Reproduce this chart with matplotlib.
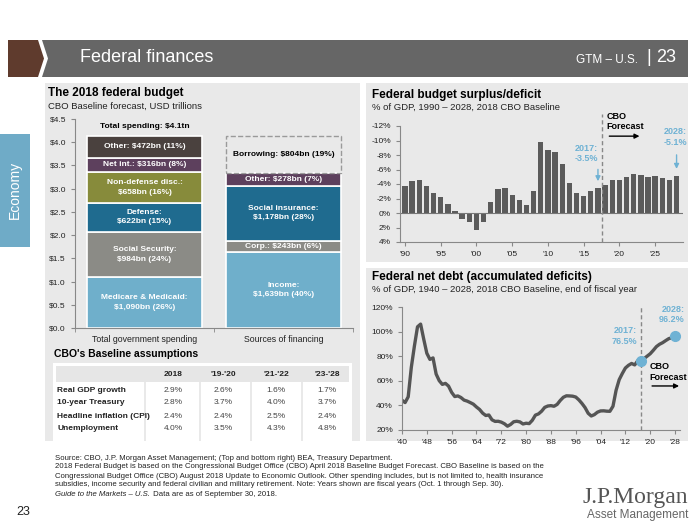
import matplotlib
matplotlib.use("Agg")
import matplotlib.pyplot as plt
from matplotlib.patches import Rectangle, Polygon

plt.rcParams['font.family'] = ['Liberation Sans', 'DejaVu Sans']

# ---- data -------------------------------------------------------------
bar_categories = ["Total government spending", "Sources of financing"]

spend_labels = ["Medicare & Medicaid:\n$1,090bn (26%)", "Social Security:\n$984bn (24%)",
                "Defense:\n$622bn (15%)", "Non-defense disc.:\n$658bn (16%)",
                "Net int.: $316bn (8%)", "Other: $472bn (11%)"]
spend_values = [1.090, 0.984, 0.622, 0.658, 0.316, 0.472]

fin_labels = ["Income:\n$1,639bn (40%)", "Corp.: $243bn (6%)",
              "Social insurance:\n$1,178bn (28%)", "Other: $278bn (7%)",
              "Borrowing: $804bn (19%)"]
fin_values = [1.639, 0.243, 1.178, 0.278, 0.804]

table_cols = ["2018", "'19-'20", "'21-'22", "'23-'28"]
table_rows = ["Real GDP growth", "10-year Treasury", "Headline inflation (CPI)", "Unemployment"]
table_vals = [["2.9%", "2.6%", "1.6%", "1.7%"],
              ["2.8%", "3.7%", "4.0%", "3.7%"],
              ["2.4%", "2.4%", "2.5%", "2.4%"],
              ["4.0%", "3.5%", "4.3%", "4.8%"]]

deficit_years = list(range(1990, 2029))
deficit_pct = [-3.7, -4.4, -4.5, -3.7, -2.8, -2.2, -1.3, -0.3, 0.8, 1.3,
               2.3, 1.2, -1.5, -3.3, -3.4, -2.5, -1.8, -1.1, -3.1, -9.8,
               -8.7, -8.4, -6.7, -4.1, -2.8, -2.4, -3.1, -3.5, -3.9, -4.6,
               -4.6, -4.9, -5.4, -5.2, -4.9, -5.1, -4.8, -4.6, -5.1]

debt_years = list(range(1940, 2029))
debt_pct = [44.2, 42.3, 47.0, 70.9, 88.3, 103.9, 106.1, 93.9, 82.4, 77.4,
            78.6, 65.5, 60.1, 57.1, 57.9, 55.7, 50.6, 47.2, 47.7, 46.4,
            44.3, 43.5, 42.3, 41.0, 38.7, 36.7, 33.7, 31.8, 32.2, 28.3,
            27.0, 27.1, 26.4, 25.1, 23.1, 24.5, 26.7, 27.1, 26.6, 24.9,
            25.5, 25.2, 27.9, 32.1, 33.1, 35.3, 38.4, 39.5, 39.8, 39.3,
            40.8, 44.0, 46.6, 47.8, 47.7, 47.5, 46.8, 44.5, 41.6, 38.2,
            33.6, 31.4, 32.5, 34.5, 35.5, 35.6, 35.3, 35.2, 39.3, 52.3,
            60.9, 65.9, 70.4, 72.6, 74.1, 72.9, 76.4, 76.5, 78.0, 80.0,
            82.0, 84.8, 87.8, 89.7, 91.0, 92.7, 94.3, 95.0, 96.2]

# ---- helpers (pixel coords -> figure fraction) -------------------------
W, H = 700, 525
def fx(x): return x / W
def fy(y): return 1 - y / H
def box(x0, y0, x1, y1): return [fx(x0), fy(y1), (x1 - x0) / W, (y1 - y0) / H]

def rect(x0, y0, x1, y1, color, z=-10):
    fig.patches.append(Rectangle((fx(x0), fy(y1)), (x1 - x0) / W, (y1 - y0) / H,
                                 transform=fig.transFigure, facecolor=color,
                                 edgecolor='none', zorder=z))

def ftext(x, y, s, **kw):
    kw.setdefault('va', 'center')
    return fig.text(fx(x), fy(y), s, **kw)

BLUE = '#6fb2d4'
PANEL = '#e9e9e9'
TXT = '#222222'
seg_colors_spend = ['#6fafcb', '#8b8b86', '#1f6b8f', '#878b3b', '#5d405d', '#4a413e']
seg_colors_fin = ['#6fafcb', '#8b8b86', '#1f6b8f', '#5d405d']
narrow = ['Liberation Sans Narrow', 'Liberation Sans']

fig = plt.figure(figsize=(7, 5.25), dpi=100)

# ---- header ---------------------------------------------------------------
fig.patches.append(Polygon([(fx(8), fy(40)), (fx(38), fy(40)), (fx(44), fy(58.5)),
                            (fx(38), fy(77)), (fx(8), fy(77))], closed=True,
                           transform=fig.transFigure, facecolor='#5f3b2d', edgecolor='none',
                           zorder=-10))
fig.patches.append(Polygon([(fx(42), fy(40)), (fx(688), fy(40)), (fx(688), fy(77)),
                            (fx(42), fy(77)), (fx(48), fy(58.5))], closed=True,
                           transform=fig.transFigure, facecolor='#666666', edgecolor='none',
                           zorder=-10))
ftext(80, 58, "Federal finances", color='white', fontsize=13, family=narrow)
ftext(638, 60, "GTM – U.S.", color='white', fontsize=8.5, ha='right', family=narrow)
ftext(649, 58, "|", color='white', fontsize=13, ha='center')
ftext(676, 58, "23", color='white', fontsize=13, ha='right', family=narrow)

# side tab
rect(0, 134, 30, 247, '#6fabc7')
ftext(15, 190, "Economy", color='white', fontsize=10, rotation=90, ha='center')

# panels
rect(45, 83, 360, 441, PANEL)
rect(366, 83, 688, 262, PANEL)
rect(366, 268, 688, 441, PANEL)

# ---- left: 2018 federal budget -----------------------------------------
ftext(48, 93, "The 2018 federal budget", fontsize=8.5, fontweight='bold', color='black')
ftext(48, 106, "CBO Baseline forecast, USD trillions", fontsize=6.8, color=TXT)

ax1 = fig.add_axes(box(75, 119, 353, 328))
ax1.patch.set_alpha(0)
bw = 0.83
bottom = 0
for v, lab, c in zip(spend_values, spend_labels, seg_colors_spend):
    ax1.bar(0, v, bottom=bottom, width=bw, color=c, edgecolor='white', linewidth=1.2)
    ax1.text(0, bottom + v / 2, lab, ha='center', va='center', color='white',
             fontsize=6, fontweight='bold', linespacing=1.5)
    bottom += v
ax1.text(0, bottom + 0.19, "Total spending: $4.1tn", ha='center', va='center',
         fontsize=6, fontweight='bold', color='black')
bottom = 0
for i, (v, lab) in enumerate(zip(fin_values, fin_labels)):
    if i < len(seg_colors_fin):
        ax1.bar(1, v, bottom=bottom, width=bw, color=seg_colors_fin[i],
                edgecolor='white', linewidth=1.2)
        ax1.text(1, bottom + v / 2, lab, ha='center', va='center', color='white',
                 fontsize=6, fontweight='bold', linespacing=1.5)
    else:
        ax1.bar(1, v, bottom=bottom, width=bw, facecolor='none',
                edgecolor='#9a9a9a', linewidth=1, linestyle='--')
        ax1.text(1, bottom + v / 2, lab, ha='center', va='center', color='black',
                 fontsize=6, fontweight='bold')
    bottom += v

ax1.set_xlim(-0.5, 1.5)
ax1.set_ylim(0, 4.5)
ax1.set_yticks([i * 0.5 for i in range(10)])
ax1.set_yticklabels([f"${i * 0.5:.1f}" for i in range(10)])
ax1.set_xticks([0, 1])
ax1.set_xticklabels(bar_categories)
ax1.set_xticks([-0.5, 0.5, 1.5], minor=True)
ax1.tick_params(axis='x', which='major', length=0, pad=5, labelsize=6.3, labelcolor=TXT)
ax1.tick_params(axis='x', which='minor', length=3, color='#888888')
ax1.tick_params(axis='y', length=3, color='#888888', labelsize=6, labelcolor=TXT)
for s in ['top', 'right']:
    ax1.spines[s].set_visible(False)
for s in ['left', 'bottom']:
    ax1.spines[s].set_color('#888888')
    ax1.spines[s].set_linewidth(0.8)

# ---- table ---------------------------------------------------------------
ftext(54, 354, "CBO's Baseline assumptions", fontsize=7.5, fontweight='bold', color='black')
rect(53, 363, 352, 441, 'white', z=-9)
rect(56, 366, 349, 382, '#e6e6e6', z=-8)
for xs in [145, 200, 251, 302]:
    rect(xs - 1.2, 382, xs + 1.2, 441, PANEL, z=-8)
col_x = [173, 223, 276, 327]
for cx, name in zip(col_x, table_cols):
    ftext(cx, 374, name, fontsize=6, fontweight='bold', ha='center', color=TXT)
row_y = [390, 403, 416, 429]
for ry, name, vals in zip(row_y, table_rows, table_vals):
    ftext(57, ry, name, fontsize=6, fontweight='bold', color=TXT)
    for cx, v in zip(col_x, vals):
        ftext(cx, ry, v, fontsize=6, ha='center', color='#444444')

# ---- top right: surplus/deficit ----------------------------------------
ftext(372, 95, "Federal budget surplus/deficit", fontsize=8.5, fontweight='bold', color='black')
ftext(372, 107, "% of GDP, 1990 – 2028, 2018 CBO Baseline", fontsize=6.8, color=TXT)

ax2 = fig.add_axes(box(400, 126, 683, 242))
ax2.patch.set_alpha(0)
ax2.bar(deficit_years, deficit_pct, width=0.75, color='#5b5b5b')
ax2.axhline(0, color='#777777', lw=0.8)
ax2.set_ylim(4, -12)
ax2.set_xlim(1989.3, 2028.9)
yt = list(range(-12, 5, 2))
ax2.set_yticks(yt)
ax2.set_yticklabels([f"{v}%" for v in yt])
xt = list(range(1990, 2029, 5))
ax2.set_xticks(xt)
ax2.set_xticklabels([f"'{str(y)[2:]}" for y in xt])
ax2.tick_params(length=3, color='#888888', labelsize=6, labelcolor=TXT)
for s in ['top', 'right']:
    ax2.spines[s].set_visible(False)
for s in ['left', 'bottom']:
    ax2.spines[s].set_color('#888888')
    ax2.spines[s].set_linewidth(0.8)
ax2.axvline(2017.5, ymin=0, ymax=1.1, clip_on=False, color='#888888', lw=1, ls=(0, (3, 2)))
ax2.text(2018.2, -12.6, "CBO\nForecast", fontsize=6.5, fontweight='bold', va='center',
         ha='left', color='black', linespacing=1.2)
ax2.annotate('', xy=(2023.2, -10.6), xytext=(2018.2, -10.6), annotation_clip=False,
             arrowprops=dict(arrowstyle='-|>', color='black', lw=1, mutation_scale=7))
ax2.text(2015.4, -8.2, "2017:\n-3.5%", fontsize=6.5, fontweight='bold', ha='center',
         va='center', color=BLUE, linespacing=1.2)
ax2.annotate('', xy=(2017, -4.0), xytext=(2017, -6.4),
             arrowprops=dict(arrowstyle='-|>', color=BLUE, lw=1, mutation_scale=7))
ax2.text(2027.8, -10.5, "2028:\n-5.1%", fontsize=6.5, fontweight='bold', ha='center',
         va='center', color=BLUE, linespacing=1.2)
ax2.annotate('', xy=(2028, -5.7), xytext=(2028, -8.4),
             arrowprops=dict(arrowstyle='-|>', color=BLUE, lw=1, mutation_scale=7))

# ---- bottom right: net debt ----------------------------------------------
ftext(372, 277, "Federal net debt (accumulated deficits)", fontsize=8.5, fontweight='bold',
      color='black')
ftext(372, 290, "% of GDP, 1940 – 2028, 2018 CBO Baseline, end of fiscal year", fontsize=6.8,
      color=TXT)

ax3 = fig.add_axes(box(402, 307, 680, 430))
ax3.patch.set_alpha(0)
ax3.plot(debt_years, debt_pct, color='#555555', lw=2.4, solid_capstyle='round')
ax3.axvline(2017, ymin=0, ymax=1.0, color='#888888', lw=1, ls=(0, (3, 2)))
ax3.plot([2017, 2028], [debt_pct[2017 - 1940], debt_pct[-1]], 'o', color=BLUE,
         markersize=7, zorder=5, clip_on=False)
ax3.set_ylim(20, 120)
ax3.set_xlim(1940, 2029.6)
ax3.set_yticks(range(20, 121, 20))
ax3.set_yticklabels([f"{v}%" for v in range(20, 121, 20)])
xt3 = list(range(1940, 2029, 8))
ax3.set_xticks(xt3)
ax3.set_xticklabels([f"'{str(y)[2:]}" for y in xt3])
ax3.tick_params(length=3, color='#888888', labelsize=6, labelcolor=TXT)
for s in ['top', 'right']:
    ax3.spines[s].set_visible(False)
for s in ['left', 'bottom']:
    ax3.spines[s].set_color('#888888')
    ax3.spines[s].set_linewidth(0.8)
ax3.text(2015.8, 96.4, "2017:\n76.5%", fontsize=6.5, fontweight='bold', ha='right',
         va='center', color=BLUE, linespacing=1.2)
ax3.text(2031, 113.9, "2028:\n96.2%", fontsize=6.5, fontweight='bold', ha='right',
         va='center', color=BLUE, linespacing=1.2, clip_on=False)
ax3.text(2019.7, 67, "CBO\nForecast", fontsize=6.5, fontweight='bold', ha='left',
         va='center', color='black', linespacing=1.2)
ax3.annotate('', xy=(2030.2, 55.8), xytext=(2019.7, 55.8), annotation_clip=False,
             arrowprops=dict(arrowstyle='-|>', color='black', lw=1, mutation_scale=7))

# ---- footer ------------------------------------------------------------
foot = ["Source: CBO, J.P. Morgan Asset Management; (Top and bottom right) BEA, Treasury Department.",
        "2018 Federal Budget is based on the Congressional Budget Office (CBO) April 2018 Baseline Budget Forecast. CBO Baseline is based on the",
        "Congressional Budget Office (CBO) August 2018 Update to Economic Outlook. Other spending includes, but is not limited to, health insurance",
        "subsidies, income security and federal civilian and military retirement. Note: Years shown are fiscal years (Oct. 1 through Sep. 30)."]
for i, line in enumerate(foot):
    ftext(55, 458 + i * 9, line, fontsize=5.6, family=narrow, color=TXT)
t_it = ftext(55, 494, "Guide to the Markets – U.S.", fontsize=5.6, family=narrow,
             style='italic', color=TXT)
fig.canvas.draw()
ext = t_it.get_window_extent(fig.canvas.get_renderer())
fig.text(ext.x1 / W + 1 / W, fy(494), " Data are as of September 30, 2018.", fontsize=5.6,
         family=narrow, color=TXT, va='center')

ftext(16, 512, "23", fontsize=9, color=TXT)
ftext(688, 497, "J.P.Morgan", fontsize=17, ha='right', family=['Liberation Serif'],
      color='#555555')
ftext(688, 515, "Asset Management", fontsize=8.5, ha='right', family=narrow, color='#666666')

fig.savefig("out.png", dpi=100)
